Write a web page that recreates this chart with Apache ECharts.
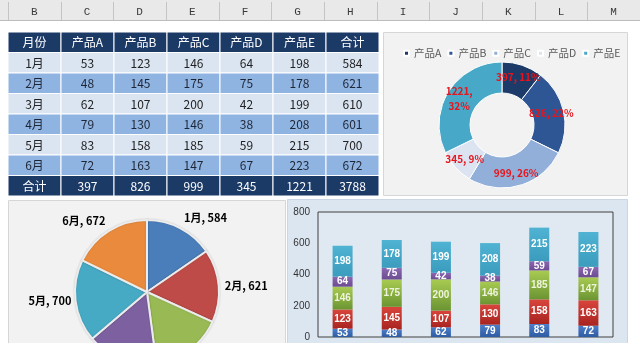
<!DOCTYPE html>
<html>
<head>
<meta charset="utf-8">
<script src="https://cdn.jsdelivr.net/npm/echarts/dist/echarts.min.js"></script>
<style>
html,body{margin:0;padding:0;background:#ffffff;}
#main{width:640px;height:343px;}
</style>
</head>
<body>
<div id="main"></div>
<script>
// ---- data ----
const colLetters = ['B','C','D','E','F','G','H','I','J','K','L','M'];
const tableHeader = ['月份','产品A','产品B','产品C','产品D','产品E','合计'];
const months = ['1月','2月','3月','4月','5月','6月'];
const products = ['产品A','产品B','产品C','产品D','产品E'];
const productA = [53, 48, 62, 79, 83, 72];
const productB = [123, 145, 107, 130, 158, 163];
const productC = [146, 175, 200, 146, 185, 147];
const productD = [64, 75, 42, 38, 59, 67];
const productE = [198, 178, 199, 208, 215, 223];
const monthTotals = [584, 621, 610, 601, 700, 672];
const productTotals = [397, 826, 999, 345, 1221];
const grandTotal = 3788;
const totalLabel = '合计';
const barAxisMin = 0, barAxisMax = 800, barAxisStep = 200;

// ---- styles ----
const FONT = '"Noto Sans CJK SC","Noto Sans",sans-serif';
const productSeries = [productA, productB, productC, productD, productE];
const donutColors = ['#1d3b68', '#2f5694', '#91afd9', '#dce4f1', '#47a8c7'];
const monthColors = ['#4a7ebb', '#be4b48', '#98b954', '#7d60a0', '#46aac5', '#e98a3d'];
const monthLabelShift = [[-2, -10], [0, 0], [0, 0], [0, 0], [2, 0], [2, -9]];
const barGrad = [
  ['#4b7dc8', '#2f5ca3'],
  ['#d9453c', '#a82420'],
  ['#a9cb52', '#6b9432'],
  ['#8b68b1', '#6c4b92'],
  ['#50b3d3', '#3b9cbe']
];

// table rows built from the arrays
const tableRows = [tableHeader];
months.forEach((m, i) => {
  tableRows.push([m].concat(productSeries.map(s => s[i])).concat([monthTotals[i]]));
});
tableRows.push([totalLabel].concat(productTotals).concat([grandTotal]));
const rowKinds = tableRows.map((r, i) => (i === 0 || i === tableRows.length - 1) ? 'dark' : (i % 2 === 1 ? 'light' : 'mid'));
const rowFill = { dark: '#1c3a66', light: '#dbe5f1', mid: '#8fb4e2' };
const rowText = { dark: '#ffffff', light: '#222222', mid: '#1e2636' };

const tableCells = [];
tableRows.forEach((row, r) => row.forEach((v, c) => tableCells.push([c, r])));

const chart = echarts.init(document.getElementById('main'), null, { renderer: 'canvas' });

const option = {
  animation: false,
  backgroundColor: '#ffffff',
  textStyle: { fontFamily: FONT },
  graphic: [
    { type: 'rect', shape: { x: 0, y: 0, width: 640, height: 20 }, style: { fill: '#e9e9e9' }, z: -10 },
    { type: 'line', shape: { x1: 0, y1: 20.5, x2: 640, y2: 20.5 }, style: { stroke: '#bdbdbd', lineWidth: 1 }, z: -10 },
    { type: 'rect', shape: { x: 383.5, y: 32.5, width: 244, height: 163 }, style: { fill: '#f2f2f2', stroke: '#d6d6d6', lineWidth: 1 }, z: -10 },
    { type: 'rect', shape: { x: 8.5, y: 200.5, width: 277, height: 150 }, style: { fill: '#f2f2f2', stroke: '#d6d6d6', lineWidth: 1 }, z: -10 },
    { type: 'rect', shape: { x: 287.5, y: 199.5, width: 340, height: 150 }, style: { fill: '#dce6f1', stroke: '#cad6e4', lineWidth: 1 }, z: -10 }
  ],
  legend: {
    data: products,
    left: 398,
    top: 43,
    width: 240,
    orient: 'horizontal',
    icon: 'rect',
    itemWidth: 5,
    itemHeight: 5,
    itemGap: 6,
    textStyle: { fontSize: 10.5, color: '#595959', fontFamily: FONT },
    selectedMode: false
  },
  grid: [
    { left: 8, top: 0, width: 636, height: 20 },
    { left: 8, top: 32, width: 371, height: 164 },
    { left: 318, top: 212, width: 295, height: 125, show: true, borderColor: '#404040', borderWidth: 1, backgroundColor: 'rgba(255,255,255,0.12)' }
  ],
  xAxis: [
    { gridIndex: 0, type: 'category', data: colLetters, show: false },
    { gridIndex: 1, type: 'category', data: tableHeader, show: false },
    { gridIndex: 2, type: 'category', data: months, axisLine: { show: false }, axisTick: { show: false }, axisLabel: { show: false } }
  ],
  yAxis: [
    { gridIndex: 0, type: 'category', data: ['hdr'], show: false },
    { gridIndex: 1, type: 'category', data: tableRows.map((r, i) => String(i)), inverse: true, show: false },
    { gridIndex: 2, type: 'value', min: barAxisMin, max: barAxisMax, interval: barAxisStep,
      axisLine: { show: false }, axisTick: { show: false }, splitLine: { show: false },
      axisLabel: { color: '#333333', fontSize: 10, margin: 8, fontFamily: '"Liberation Sans",Arial,sans-serif' } }
  ],
  series: [
    // column letter header
    {
      type: 'custom', xAxisIndex: 0, yAxisIndex: 0, silent: true,
      data: colLetters.map((l, i) => [i, 0]),
      renderItem: function (params, api) {
        const i = api.value(0);
        const p = api.coord([i, 0]);
        const s = api.size([1, 1]);
        const x0 = p[0] - s[0] / 2;
        return {
          type: 'group',
          children: [
            { type: 'line', shape: { x1: Math.round(x0) + 0.5, y1: 2, x2: Math.round(x0) + 0.5, y2: 20 }, style: { stroke: '#c4c4c4', lineWidth: 1 } },
            { type: 'text', style: { text: colLetters[i], x: p[0], y: 12.5, align: 'center', verticalAlign: 'middle', fill: '#3a3a3a', font: '11px "Liberation Mono","DejaVu Sans Mono",monospace' } }
          ]
        };
      }
    },
    // data table
    {
      type: 'custom', xAxisIndex: 1, yAxisIndex: 1, silent: true,
      data: tableCells,
      renderItem: function (params, api) {
        const c = api.value(0), r = api.value(1);
        const p = api.coord([c, r]);
        const s = api.size([1, 1]);
        const kind = rowKinds[r];
        return {
          type: 'group',
          children: [
            { type: 'rect', shape: { x: p[0] - s[0] / 2, y: p[1] - s[1] / 2, width: s[0], height: s[1] },
              style: { fill: rowFill[kind], stroke: '#ffffff', lineWidth: 1 } },
            { type: 'text', style: { text: String(tableRows[r][c]), x: p[0], y: p[1] + 0.5, align: 'center', verticalAlign: 'middle',
              fill: rowText[kind], font: '12px ' + FONT } }
          ]
        };
      }
    },
    // donut
    {
      type: 'pie', name: 'donut',
      center: [502, 125], radius: [32, 63],
      startAngle: 90, clockwise: true,
      percentPrecision: 0,
      avoidLabelOverlap: false,
      itemStyle: { borderColor: '#ffffff', borderWidth: 1 },
      label: {
        show: true, position: 'inside', color: '#e8141b', fontWeight: 'bold', fontSize: 10, fontFamily: FONT, lineHeight: 15,
        formatter: function (p) { return String(p.value).length > 3 ? p.value + ',\n' + p.percent + '%' : p.value + ', ' + p.percent + '%'; }
      },
      labelLine: { show: false },
      data: products.map((n, i) => ({ name: n, value: productTotals[i], itemStyle: { color: donutColors[i] } }))
    },
    // month pie
    {
      type: 'pie', name: 'monthPie',
      center: [147, 292], radius: 72,
      startAngle: 90, clockwise: true,
      avoidLabelOverlap: false,
      itemStyle: { borderColor: '#ececec', borderWidth: 2, shadowBlur: 2, shadowColor: 'rgba(0,0,0,0.15)' },
      label: { show: true, position: 'outside', formatter: '{b}, {c}', color: '#000000', fontWeight: 'bold', fontSize: 11, fontFamily: FONT },
      labelLine: { show: false, length: 1, length2: 0 },
      labelLayout: function (params) {
        const s = monthLabelShift[params.dataIndex];
        return { dx: s[0], dy: s[1] };
      },
      data: months.map((m, i) => ({ name: m, value: monthTotals[i], itemStyle: { color: monthColors[i] } }))
    }
  ].concat(productSeries.map((vals, k) => ({
    type: 'bar', name: 'bar-' + products[k], stack: 'total',
    xAxisIndex: 2, yAxisIndex: 2,
    barWidth: 20,
    itemStyle: { color: { type: 'linear', x: 0, y: 0, x2: 0, y2: 1, colorStops: [{ offset: 0, color: barGrad[k][0] }, { offset: 1, color: barGrad[k][1] }] } },
    label: { show: true, position: 'inside', color: k === 2 ? '#eef4dc' : '#ffffff', fontWeight: 'bold', fontSize: 10, fontFamily: '"Liberation Sans",Arial,sans-serif' },
    data: vals
  })))
};
chart.setOption(option);
</script>
</body>
</html>
